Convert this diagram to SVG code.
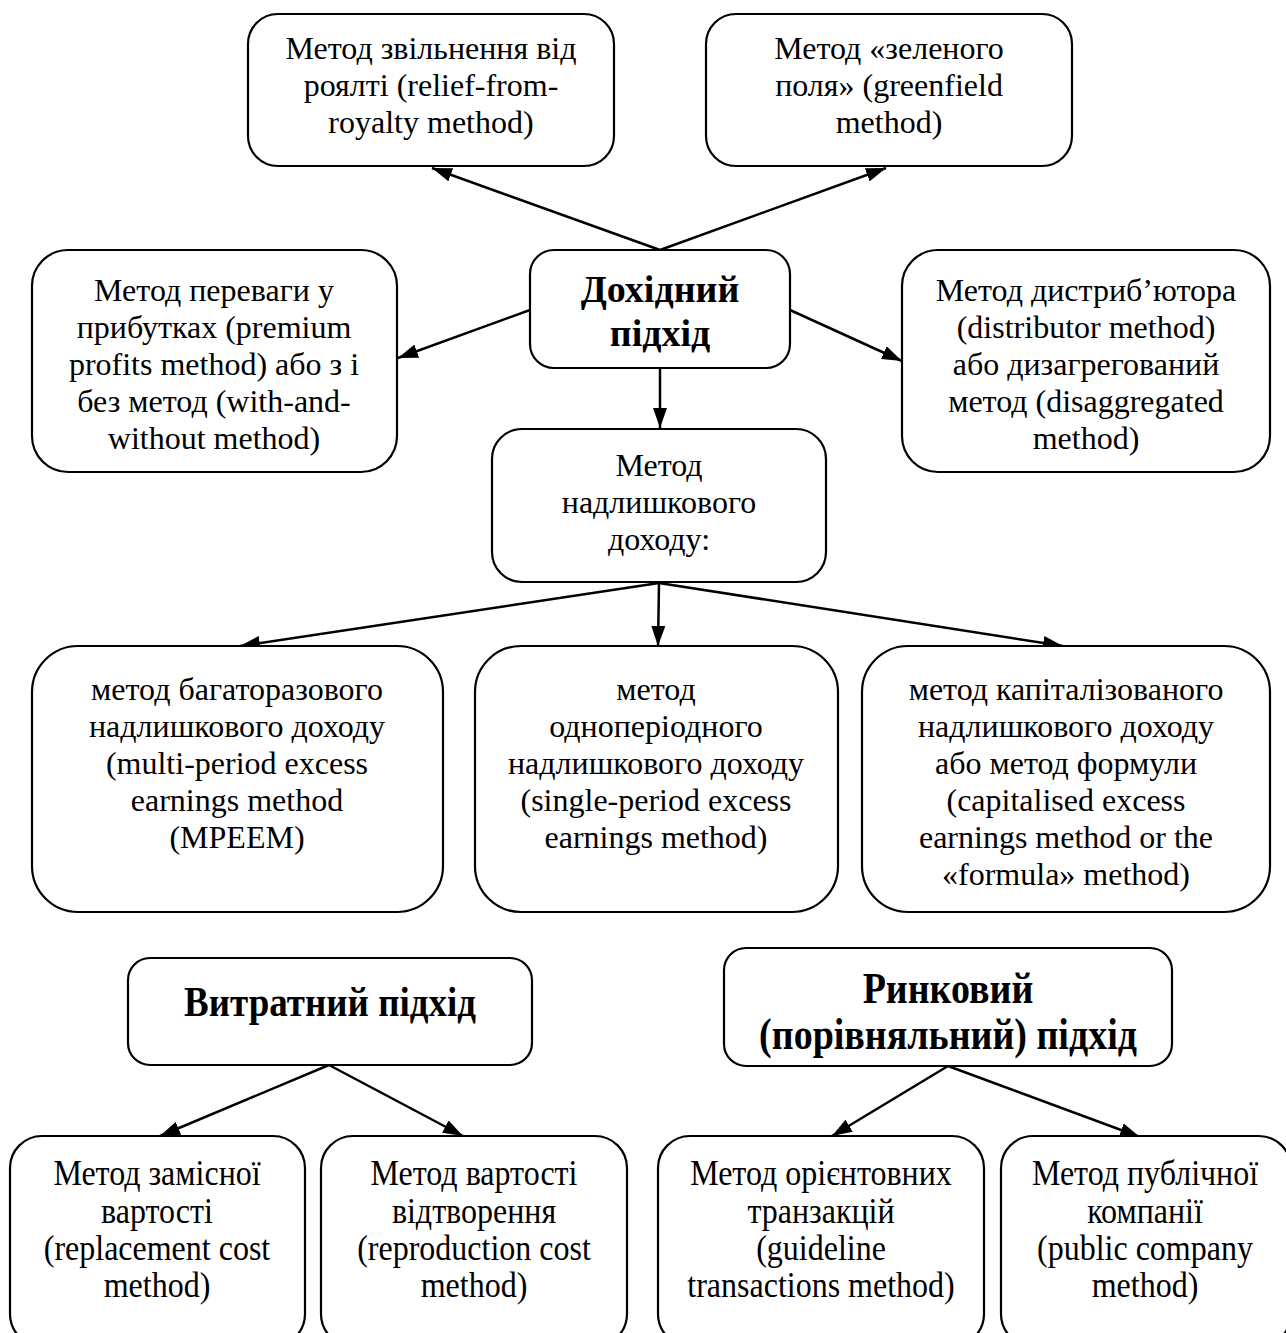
<svg xmlns="http://www.w3.org/2000/svg" width="1286" height="1333" viewBox="0 0 1286 1333">
<defs>
<marker id="ah" viewBox="0 0 20 14" refX="20" refY="7" markerWidth="20" markerHeight="14" markerUnits="userSpaceOnUse" orient="auto">
<path d="M0,0 L20,7 L0,14 Z" fill="#000"/>
</marker>
<style>
.box{fill:#fff;stroke:#000;stroke-width:2.2}
.t{font-family:"Liberation Serif","Times New Roman",serif;font-size:32px;fill:#000;text-anchor:middle}
.b{font-family:"Liberation Serif","Times New Roman",serif;font-size:38px;font-weight:bold;fill:#000;text-anchor:middle}
.bs{font-family:"Liberation Serif","Times New Roman",serif;font-size:37px;font-weight:bold;fill:#000;text-anchor:middle}
.c{stroke:#000;stroke-width:2.5;fill:none;marker-end:url(#ah)}
</style>
</defs>
<rect width="1286" height="1333" fill="#fff"/>
<g id="connectors">
<line class="c" x1="660" y1="250" x2="432" y2="168"/>
<line class="c" x1="660" y1="250" x2="886" y2="168"/>
<line class="c" x1="530" y1="310" x2="398" y2="358"/>
<line class="c" x1="790" y1="310" x2="902" y2="361"/>
<line class="c" x1="660" y1="368" x2="660" y2="428"/>
<line class="c" x1="659" y1="583" x2="240" y2="646"/>
<line class="c" x1="659" y1="583" x2="658" y2="646"/>
<line class="c" x1="659" y1="583" x2="1063" y2="646"/>
<line class="c" x1="329" y1="1065" x2="160" y2="1136"/>
<line class="c" x1="329" y1="1065" x2="463" y2="1136"/>
<line class="c" x1="948" y1="1066" x2="832" y2="1136"/>
<line class="c" x1="948" y1="1066" x2="1140" y2="1137"/>
</g>
<g id="n-royalty">
<rect class="box" x="248" y="14" width="366" height="152" rx="30"/>
<text class="t" x="431" y="59">Метод звільнення від</text>
<text class="t" x="431" y="96">роялті (relief-from-</text>
<text class="t" x="431" y="133">royalty method)</text>
</g>
<g id="n-greenfield">
<rect class="box" x="706" y="14" width="366" height="152" rx="30"/>
<text class="t" x="889" y="59">Метод «зеленого</text>
<text class="t" x="889" y="96">поля» (greenfield</text>
<text class="t" x="889" y="133">method)</text>
</g>
<g id="n-premium">
<rect class="box" x="32" y="250" width="365" height="222" rx="36"/>
<text class="t" x="214" y="301">Метод переваги  у</text>
<text class="t" x="214" y="338">прибутках (premium</text>
<text class="t" x="214" y="375">profits method) або з і</text>
<text class="t" x="214" y="412">без метод (with-and-</text>
<text class="t" x="214" y="449">without method)</text>
</g>
<g id="n-income">
<rect class="box" x="530" y="250" width="260" height="118" rx="24"/>
<text class="b" x="660" y="302">Дохідний</text>
<text class="b" x="660" y="346">підхід</text>
</g>
<g id="n-distributor">
<rect class="box" x="902" y="250" width="368" height="222" rx="36"/>
<text class="t" x="1086" y="301">Метод дистриб’ютора</text>
<text class="t" x="1086" y="338">(distributor method)</text>
<text class="t" x="1086" y="375">або дизагрегований</text>
<text class="t" x="1086" y="412">метод (disaggregated</text>
<text class="t" x="1086" y="449">method)</text>
</g>
<g id="n-excess">
<rect class="box" x="492" y="429" width="334" height="153" rx="30"/>
<text class="t" x="659" y="476">Метод</text>
<text class="t" x="659" y="513">надлишкового</text>
<text class="t" x="659" y="550">доходу:</text>
</g>
<g id="n-mpeem">
<rect class="box" x="32" y="646" width="411" height="266" rx="46"/>
<text class="t" x="237" y="700">метод багаторазового</text>
<text class="t" x="237" y="737">надлишкового доходу</text>
<text class="t" x="237" y="774">(multi-period excess</text>
<text class="t" x="237" y="811">earnings method</text>
<text class="t" x="237" y="848">(MPEEM)</text>
</g>
<g id="n-single">
<rect class="box" x="475" y="646" width="363" height="266" rx="46"/>
<text class="t" x="656" y="700">метод</text>
<text class="t" x="656" y="737">одноперіодного</text>
<text class="t" x="656" y="774">надлишкового доходу</text>
<text class="t" x="656" y="811">(single-period excess</text>
<text class="t" x="656" y="848">earnings method)</text>
</g>
<g id="n-capitalised">
<rect class="box" x="862" y="646" width="408" height="266" rx="46"/>
<text class="t" x="1066" y="700">метод капіталізованого</text>
<text class="t" x="1066" y="737">надлишкового доходу</text>
<text class="t" x="1066" y="774">або метод формули</text>
<text class="t" x="1066" y="811">(capitalised excess</text>
<text class="t" x="1066" y="848">earnings method or the</text>
<text class="t" x="1066" y="885">«formula» method)</text>
</g>
<g id="n-cost">
<rect class="box" x="128" y="958" width="404" height="107" rx="22"/>
<text class="bs" transform="translate(330,1016) scale(1,1.15)">Витратний підхід</text>
</g>
<g id="n-market">
<rect class="box" x="724" y="948" width="448" height="118" rx="22"/>
<text class="b" transform="translate(948,1003) scale(1,1.15)">Ринковий</text>
<text class="b" transform="translate(948,1049) scale(1,1.15)">(порівняльний) підхід</text>
</g>
<g id="n-replacement">
<rect class="box" x="10" y="1136" width="295" height="210" rx="32"/>
<text class="t" transform="translate(157,1185) scale(1,1.13)">Метод замісної</text>
<text class="t" transform="translate(157,1223) scale(1,1.13)">вартості</text>
<text class="t" transform="translate(157,1260) scale(1,1.13)">(replacement cost</text>
<text class="t" transform="translate(157,1297) scale(1,1.13)">method)</text>
</g>
<g id="n-reproduction">
<rect class="box" x="321" y="1136" width="306" height="210" rx="32"/>
<text class="t" transform="translate(474,1185) scale(1,1.13)">Метод вартості</text>
<text class="t" transform="translate(474,1223) scale(1,1.13)">відтворення</text>
<text class="t" transform="translate(474,1260) scale(1,1.13)">(reproduction cost</text>
<text class="t" transform="translate(474,1297) scale(1,1.13)">method)</text>
</g>
<g id="n-guideline">
<rect class="box" x="658" y="1136" width="326" height="210" rx="32"/>
<text class="t" transform="translate(821,1185) scale(1,1.13)">Метод орієнтовних</text>
<text class="t" transform="translate(821,1223) scale(1,1.13)">транзакцій</text>
<text class="t" transform="translate(821,1260) scale(1,1.13)">(guideline</text>
<text class="t" transform="translate(821,1297) scale(1,1.13)">transactions method)</text>
</g>
<g id="n-public">
<rect class="box" x="1001" y="1136" width="290" height="210" rx="32"/>
<text class="t" transform="translate(1145,1185) scale(1,1.13)">Метод публічної</text>
<text class="t" transform="translate(1145,1223) scale(1,1.13)">компанії</text>
<text class="t" transform="translate(1145,1260) scale(1,1.13)">(public company</text>
<text class="t" transform="translate(1145,1297) scale(1,1.13)">method)</text>
</g>
</svg>
